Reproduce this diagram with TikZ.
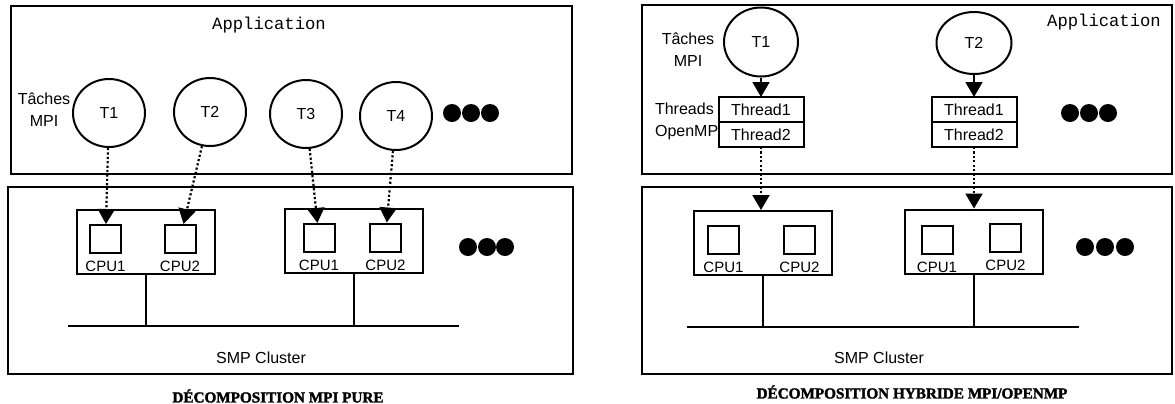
\documentclass[tikz,border=0pt]{standalone}
\usepackage{fontspec}
\setmainfont{Liberation Serif}
\setsansfont{Liberation Sans}
\setmonofont{Liberation Mono}
\newfontfamily\titrefont{Liberation Serif}[BoldFeatures={FakeBold=2}]
\usetikzlibrary{positioning,shapes.geometric,arrows.meta}

\begin{document}
\begin{tikzpicture}[x = 0.5pt, y = -0.5pt,
  every node/.style = {font=\sffamily\fontsize{8}{11}\selectfont},
  cadre/.style = {draw, line width=1pt},
  bus/.style = {line width=1pt},
  tache/.style = {draw, ellipse, line width=1pt, inner sep=0pt, minimum width=36pt, minimum height=34pt},
  noeud/.style = {draw, line width=1pt, minimum width=69pt, minimum height=32pt},
  cpu/.style = {draw, line width=1pt, minimum width=15.5pt, minimum height=14pt},
  cpulabel/.style = {font=\sffamily\fontsize{7.5}{9}\selectfont},
  thread/.style = {draw, line width=1pt, outer sep=0pt, inner sep=0pt, minimum width=42.5pt, minimum height=12.5pt},
  point/.style = {fill, circle, inner sep=0pt, minimum size=9pt},
  fleche/.style = {line width=0.9pt, -{Triangle[length=7.5pt,width=8.5pt]}},
  pointille/.style = {fleche, line width=1.1pt, dash pattern=on 1.1pt off 1.1pt},
  appli/.style = {font=\ttfamily\fontsize{8.6}{10}\selectfont},
  titre/.style = {font=\titrefont\bfseries\fontsize{7.6}{9}\selectfont},
]
\useasboundingbox (0,0) rectangle (1175,403);

% decomposition MPI pure
\draw[cadre] (11,6) rectangle (572,174);
\draw[cadre] (8,187) rectangle (573,374);

\node[appli] (appG) at (269,25) {Application};
\node[align=center] (tachesG) at (44,110) {Tâches\\MPI};

\node[tache] (t1G) at (109,113) {T1};
\node[tache] (t2G) at (210,112) {T2};
\node[tache] (t3G) at (306,114) {T3};
\node[tache] (t4G) at (396,116) {T4};

\node[point] (pG1) at (452,113) {};
\node[point] (pG2) at (471,113) {};
\node[point] (pG3) at (490,113) {};

\node[noeud] (n1G) at (145.5,242) {};
\node[noeud] (n2G) at (354,241) {};
\node[cpu] (c11G) at (105.5,239) {};
\node[cpu] (c12G) at (180,239) {};
\node[cpu] (c21G) at (319,238) {};
\node[cpu] (c22G) at (385.5,237.5) {};
\node[cpulabel, below=0pt of c11G] (l11G) {CPU1};
\node[cpulabel, below=0pt of c12G] (l12G) {CPU2};
\node[cpulabel, below=0pt of c21G] (l21G) {CPU1};
\node[cpulabel, below=0pt of c22G] (l22G) {CPU2};

\node[point] (qG1) at (468,247) {};
\node[point] (qG2) at (487,247) {};
\node[point] (qG3) at (505,247) {};

\coordinate (busG1) at (68,326);
\coordinate (busG2) at (459,326);
\draw[bus] (busG1) -- (busG2);
\draw[bus] (n1G.south) -- (n1G.south |- busG1);
\draw[bus] (n2G.south) -- (n2G.south |- busG1);

\draw[pointille] (t1G) -- (c11G);
\draw[pointille] (t2G) -- (c12G);
\draw[pointille] (t3G) -- (c21G);
\draw[pointille] (t4G) -- (c22G);

\node (smpG) at (261,358) {SMP Cluster};
\node[titre] (titreG) at (278,396) {DÉCOMPOSITION MPI PURE};

% decomposition hybride MPI/OpenMP
\draw[cadre] (642,5) rectangle (1172,174);
\draw[cadre] (642,187) rectangle (1172,374);

\node[appli] (appD) at (1104,22) {Application};
\node[align=center] (tachesD) at (688,50) {Tâches\\MPI};
\node[align=left, anchor=west] (threadsD) at (648,121) {Threads\\OpenMP};

\node[tache, minimum width=37pt, minimum height=34.5pt] (t1D) at (761,42) {T1};
\node[tache, minimum width=37.5pt, minimum height=31pt] (t2D) at (974,43) {T2};

\node[thread] (th1aD) at (761,109.5) {Thread1};
\node[thread, below=0pt of th1aD] (th1bD) {Thread2};
\node[thread] (th2aD) at (974,109.5) {Thread1};
\node[thread, below=0pt of th2aD] (th2bD) {Thread2};

\node[point] (pD1) at (1070,113) {};
\node[point] (pD2) at (1089,113) {};
\node[point] (pD3) at (1108,113) {};

\draw[fleche] (t1D) -- (th1aD);
\draw[fleche] (t2D) -- (th2aD);

\node[noeud] (n1D) at (763,243) {};
\node[noeud] (n2D) at (974,241.5) {};
\node[cpu] (c11D) at (723.5,239.5) {};
\node[cpu] (c12D) at (799.5,239.5) {};
\node[cpu] (c21D) at (937,239.5) {};
\node[cpu] (c22D) at (1005.5,238) {};
\node[cpulabel, below=0pt of c11D] (l11D) {CPU1};
\node[cpulabel, below=0pt of c12D] (l12D) {CPU2};
\node[cpulabel, below=0pt of c21D] (l21D) {CPU1};
\node[cpulabel, below=0pt of c22D] (l22D) {CPU2};

\node[point] (qD1) at (1085,247) {};
\node[point] (qD2) at (1105,247) {};
\node[point] (qD3) at (1125,247) {};

\draw[pointille] (th1bD.south) -- (th1bD.south |- n1D.north);
\draw[pointille] (th2bD.south) -- (th2bD.south |- n2D.north);

\coordinate (busD1) at (687,327);
\coordinate (busD2) at (1079,327);
\draw[bus] (busD1) -- (busD2);
\draw[bus] (n1D.south) -- (n1D.south |- busD1);
\draw[bus] (n2D.south) -- (n2D.south |- busD1);

\node (smpD) at (879,358) {SMP Cluster};
\node[titre] (titreD) at (912,392) {DÉCOMPOSITION HYBRIDE MPI/OPENMP};

\end{tikzpicture}
\end{document}
